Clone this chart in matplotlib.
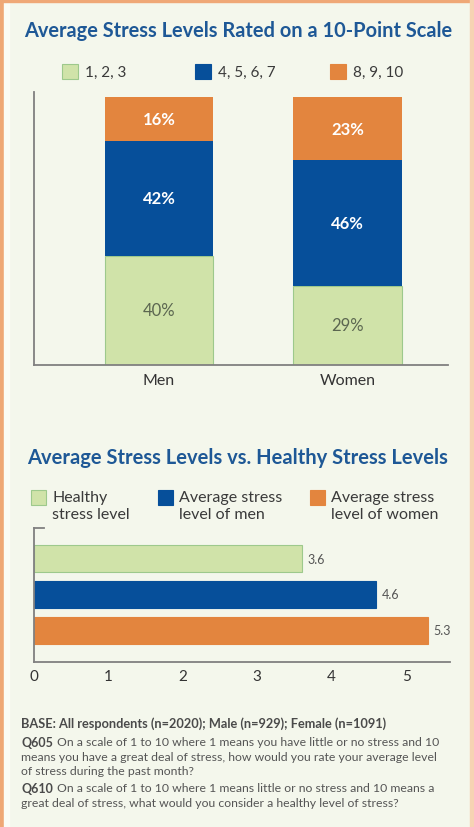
import matplotlib
matplotlib.use('Agg')
import matplotlib.pyplot as plt
from matplotlib.patches import Rectangle
from matplotlib.lines import Line2D

plt.rcParams['font.family'] = ['Lato', 'DejaVu Sans']

# top chart: share of people by rating band
groups = ['Men', 'Women']
bands = ['1, 2, 3', '4, 5, 6, 7', '8, 9, 10']
low = [40, 29]
mid = [42, 46]
high = [16, 23]

# bottom chart: average ratings
levels = ['Healthy\nstress level', 'Average stress\nlevel of men', 'Average stress\nlevel of women']
level_values = [3.6, 4.6, 5.3]
x_ticks = [0, 1, 2, 3, 4, 5]

GREEN = '#D0E3A9'
GREEN_EDGE = '#9DC98C'
BLUE = '#064F9A'
ORANGE = '#E3853E'
TITLE = '#1E5896'
BG = '#F4F7EC'
AXIS = '#808080'

W, H = 474, 828
fig = plt.figure(figsize=(W / 100, H / 100), dpi=100, facecolor=BG)


def box(x0, y0, x1, y1):
    # pixel box (top-left origin) -> figure fractions
    return [x0 / W, 1 - y1 / H, (x1 - x0) / W, (y1 - y0) / H]


# frame
fig.patches.append(Rectangle((0, 0), 4 / W, 1, transform=fig.transFigure,
                             color='#EFA877', zorder=0))
fig.patches.append(Rectangle((4 / W, 0), 5 / W, 1, transform=fig.transFigure,
                             color='#FBFCF6', zorder=0))
fig.patches.append(Rectangle((0, 1 - 3 / H), 1, 3 / H, transform=fig.transFigure,
                             color='#EFA877', zorder=0))
fig.patches.append(Rectangle((1 - 4 / W, 0), 4 / W, 1, transform=fig.transFigure,
                             color='#F6D3B3', zorder=0))

fig.text(238 / W, 1 - 31 / H, 'Average Stress Levels Rated on a 10-Point Scale',
         ha='center', va='center', fontsize=14.4, fontweight='bold', color=TITLE)

# top legend
for (x, label, col, edge) in [(62, bands[0], GREEN, GREEN_EDGE),
                              (195, bands[1], BLUE, BLUE),
                              (330, bands[2], ORANGE, ORANGE)]:
    fig.patches.append(Rectangle((x / W, 1 - 80 / H), 16 / W, 15 / H,
                                 transform=fig.transFigure, facecolor=col,
                                 edgecolor=edge, lw=0.8))
    fig.text((x + 23) / W, 1 - 73 / H, label, ha='left', va='center',
             fontsize=11, color='#3a3a3a')

ax1 = fig.add_axes(box(34, 93, 448, 366))
ax1.set_facecolor(BG)
xs = range(len(groups))
bw = 0.575
ax1.bar(xs, low, bw, color=GREEN, edgecolor=GREEN_EDGE, lw=0.8)
ax1.bar(xs, mid, bw, bottom=low, color=BLUE)
bottoms = [a + b for a, b in zip(low, mid)]
ax1.bar(xs, high, bw, bottom=bottoms, color=ORANGE)
for i in xs:
    ax1.text(i, low[i] / 2, f'{low[i]}%', ha='center', va='center',
             fontsize=12, color='#5b6650')
    ax1.text(i, low[i] + mid[i] / 2, f'{mid[i]}%', ha='center', va='center',
             fontsize=12, fontweight='bold', color='white')
    ax1.text(i, bottoms[i] + high[i] / 2, f'{high[i]}%', ha='center', va='center',
             fontsize=12, fontweight='bold', color='white')
ax1.set_xlim(-0.663, 1.533)
ax1.set_ylim(0, 100)
ax1.set_xticks(list(xs))
ax1.set_xticklabels(groups, fontsize=11.5, color='#333333')
ax1.tick_params(axis='x', length=0, pad=6)
ax1.set_yticks([])
for s in ['top', 'right']:
    ax1.spines[s].set_visible(False)
for s in ['left', 'bottom']:
    ax1.spines[s].set_color(AXIS)
    ax1.spines[s].set_linewidth(1.3)

fig.text(238 / W, 1 - 458 / H, 'Average Stress Levels vs. Healthy Stress Levels',
         ha='center', va='center', fontsize=14.5, fontweight='bold', color=TITLE)

# bottom legend
for (x, label, col, edge) in [(31, levels[0], GREEN, GREEN_EDGE),
                              (158, levels[1], BLUE, BLUE),
                              (310, levels[2], ORANGE, ORANGE)]:
    fig.patches.append(Rectangle((x / W, 1 - 506 / H), 15 / W, 15 / H,
                                 transform=fig.transFigure, facecolor=col,
                                 edgecolor=edge, lw=0.8))
    fig.text((x + 21) / W, 1 - 491 / H, label, ha='left', va='top',
             fontsize=11.5, color='#3a3a3a', linespacing=1.3)

ax2 = fig.add_axes(box(34, 529, 450, 663))
ax2.set_facecolor(BG)
ys = range(len(level_values))
ax2.barh(ys, level_values, 0.76, color=[GREEN, BLUE, ORANGE],
         edgecolor=[GREEN_EDGE, BLUE, ORANGE], lw=0.8)
for i, v in zip(ys, level_values):
    ax2.text(v + 0.07, i, f'{v}', ha='left', va='center', fontsize=9,
             color='#555555')
ax2.set_xlim(0, 5.59)
ax2.set_ylim(2.89, -0.86)
ax2.set_xticks(x_ticks)
ax2.set_xticklabels([str(t) for t in x_ticks], fontsize=11, color='#333333')
ax2.tick_params(axis='x', length=0, pad=5)
ax2.set_yticks([])
for s in ['top', 'right']:
    ax2.spines[s].set_visible(False)
for s in ['left', 'bottom']:
    ax2.spines[s].set_color(AXIS)
    ax2.spines[s].set_linewidth(1.3)
ax2.add_line(Line2D([0, 10 / 416], [1, 1], transform=ax2.transAxes,
                    color=AXIS, lw=1.3, clip_on=False))

# notes
fx = 21 / W
fig.text(fx, 1 - 724 / H,
         'BASE: All respondents (n=2020); Male (n=929); Female (n=1091)',
         ha='left', va='center', fontsize=9.2, fontweight='bold', color='#4a4a4a')

renderer = fig.canvas.get_renderer()


def question(code, first, rest, y):
    t = fig.text(fx, 1 - y / H, code, ha='left', va='center', fontsize=9,
                 fontweight='bold', color='#4a4a4a')
    x_end = t.get_window_extent(renderer).x1 / W
    fig.text(x_end + 4 / W, 1 - y / H, first, ha='left', va='center',
             fontsize=8.8, color='#555555')
    for k, line in enumerate(rest):
        fig.text(fx, 1 - (y + 14.5 * (k + 1)) / H, line, ha='left', va='center',
                 fontsize=8.8, color='#555555')


question('Q605', 'On a scale of 1 to 10 where 1 means you have little or no stress and 10',
         ['means you have a great deal of stress, how would you rate your average level',
          'of stress during the past month?'], 743)
question('Q610', 'On a scale of 1 to 10 where 1 means little or no stress and 10 means a',
         ['great deal of stress, what would you consider a healthy level of stress?'], 789)

fig.savefig('out.png', dpi=100, facecolor=BG)
